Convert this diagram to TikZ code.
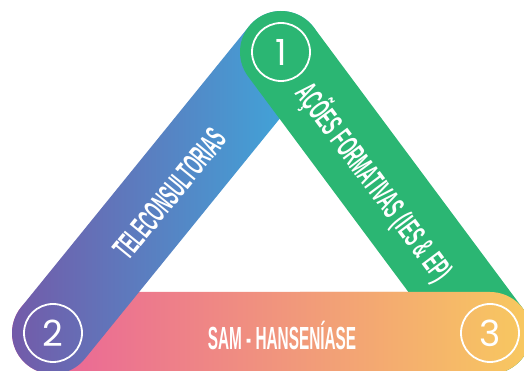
\documentclass[tikz,border=0pt]{standalone}
\usepackage{fontspec}
\usepackage{graphicx}
\usetikzlibrary{calc}
\newfontfamily\numfont{Poppins}
\newfontfamily\bandfont{Liberation Sans}

\definecolor{bandgreen}{HTML}{2BB673}
\definecolor{bandpurple}{HTML}{7459A8}
\definecolor{bandblue}{HTML}{39AEDF}
\definecolor{bandpink}{HTML}{E95E9C}
\definecolor{bandsalmon}{HTML}{F09A86}
\definecolor{bandyellow}{HTML}{F8C95F}

% half width of a band
\def\bw{41pt}
% stadium shaped band from #2 to #3
\newcommand{\band}[3]{%
  \path[#1] let \p1=($(#3)-(#2)$), \n1={atan2(\y1,\x1)} in
    ($(#2)+(\n1-90:\bw)$) -- ($(#3)+(\n1-90:\bw)$)
    arc[start angle=\n1-90, end angle=\n1+90, radius=\bw]
    -- ($(#2)+(\n1+90:\bw)$)
    arc[start angle=\n1+90, end angle=\n1+270, radius=\bw] -- cycle;}

\tikzset{
  numring/.style={circle, draw=white, line width=1.8pt, minimum size=58pt,
    inner sep=0pt, text=white, font=\numfont\fontsize{36}{36}\selectfont},
  bandtext/.style={text=white, inner sep=0pt,
    font=\bandfont\bfseries\fontsize{32}{32}\selectfont},
  tealband/.style={left color=bandpurple, right color=bandblue},
  warmband/.style={left color=bandpink, middle color=bandsalmon, right color=bandyellow},
  greenband/.style={fill=bandgreen},
}

\begin{document}
\begin{tikzpicture}[x=1pt, y=1pt]
    \useasboundingbox (0,0) rectangle (524,371);
    \coordinate (V1) at (281,319);
    \coordinate (V2) at (53,38);
    \coordinate (V3) at (490,38);

    % bands
    \band{warmband}{V2}{V3}
    \band{tealband}{V2}{V1}
    \band{greenband}{V1}{V3}
    % right end of the warm band lies over the green one
    \begin{scope}
        \clip (300,0) rectangle (524,371);
        \band{warmband}{V2}{V3}
    \end{scope}

    % numbers
    \node[numring] (n1) at (V1) {1};
    \node[numring] (n2) at (V2) {2};
    \node[numring] (n3) at (V3) {3};

    % labels
    \node[bandtext, rotate=50.8] (tele) at (170,177) {\scalebox{0.47}[1]{TELECONSULTORIAS}};
    \node[bandtext, rotate=-53.2] (acoes) at (374,189) {\scalebox{0.48}[1]{AÇÕES FORMATIVAS (IES \& EP)}};
    \node[bandtext] (sam) at (282,36) {\scalebox{0.48}[1]{SAM - HANSENÍASE}};
\end{tikzpicture}
\end{document}
